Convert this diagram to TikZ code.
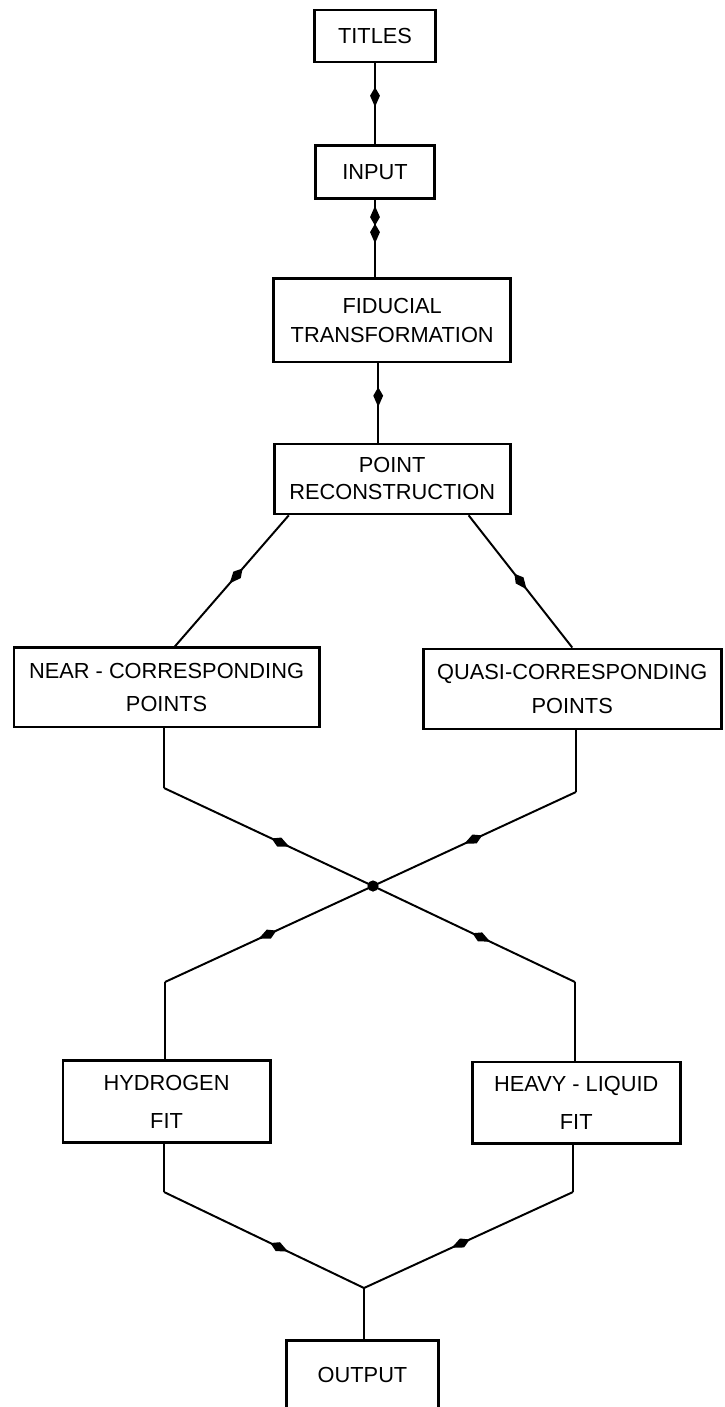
\documentclass[tikz,border=0pt]{standalone}
\usepackage{fontspec}
\setmainfont{Liberation Sans}
\usetikzlibrary{arrows.meta, positioning, decorations.markings}

\begin{document}
\begin{tikzpicture}[%
    x=0.025cm, y=-0.025cm,
    >={Kite[length=14pt,width=7pt,inset=6pt]},
    on grid,
    box/.style={draw, line width=2pt, align=center, inner sep=0pt,
      font=\fontsize{15.5}{18}\selectfont},
    link/.style={line width=1.4pt},
    mid/.style={postaction={decorate},
      decoration={markings, mark=at position #1 with {\arrow{>}}}},
    twoway/.style={postaction={decorate},
      decoration={markings,
        mark=at position 0.33 with {\arrow{<}},
        mark=at position 0.56 with {\arrow{>}}}}
  ]

  \useasboundingbox (0,0) rectangle (724,1407);
  \clip (0,0) rectangle (724,1407);

  \node[box, minimum width=3.03cm, minimum height=1.3cm] (titles) at (375,36) {TITLES};
  \node[box, minimum width=2.98cm, minimum height=1.33cm] (input) [below=3.4cm of titles] {INPUT};
  \node[box, minimum width=5.93cm, minimum height=2.08cm] (fid) [below right=3.71cm and 0.43cm of input] {FIDUCIAL\\[2.6pt] TRANSFORMATION};
  \node[box, minimum width=5.9cm, minimum height=1.75cm] (point) [below=3.96cm of fid] {POINT\\[1.2pt] RECONSTRUCTION};
  \node[box, minimum width=7.63cm, minimum height=1.98cm] (near) [below left=5.21cm and 5.64cm of point] {NEAR - CORRESPONDING\\[6pt] POINTS};
  \node[box, minimum width=7.45cm, minimum height=2cm] (quasi) [below right=5.25cm and 4.5cm of point] {QUASI-CORRESPONDING\\[6pt] POINTS};
  \node[box, minimum width=5.18cm, minimum height=2.03cm] (hydro) [below=10.35cm of near] {HYDROGEN\\[9pt] FIT};
  \node[box, minimum width=5.2cm, minimum height=2.03cm] (heavy) [below right=10.34cm and 0.1cm of quasi] {HEAVY - LIQUID\\[9pt] FIT};
  \node[box, anchor=north, minimum width=3.78cm, inner ysep=0.66cm, text depth=1cm] (output) at (362.5,1339) {OUTPUT};

  % bends of the crossing lines
  \coordinate (nearbend) at (164,788);
  \coordinate (quasibend) at (576,792);
  \coordinate (cross) at (373,886);
  \coordinate (hydrobend) at (165,982);
  \coordinate (heavybend) at (575,982);
  \coordinate (hydrolow) at (164,1192);
  \coordinate (heavylow) at (573,1192);
  \coordinate (join) at (364,1288);

  \path[link]
      (titles.south)                edge [mid=0.54] (titles.south |- input.north)
      (input.south)                 edge [twoway  ] (input.south |- fid.north)
      ([xshift=-0.35cm]fid.south)   edge [mid=0.55] ([xshift=-0.35cm]fid.south |- point.north)
      ([xshift=0.4cm]point.south west)   edge [mid=0.52] ([xshift=0.21cm]near.north)
      ([xshift=-1.075cm]point.south east) edge [mid=0.56] (quasi.north)
      (near.south -| nearbend)      edge [        ] (nearbend)
      (nearbend)                    edge [mid=0.6 ] (cross)
      (quasi.south -| quasibend)    edge [        ] (quasibend)
      (quasibend)                   edge [mid=0.55] (cross)
      (cross)                       edge [mid=0.55] (hydrobend)
      (cross)                       edge [mid=0.58] (heavybend)
      (hydrobend)                   edge [        ] (hydrobend |- hydro.north)
      (heavybend)                   edge [        ] (heavybend |- heavy.north)
      (hydro.south -| hydrolow)     edge [        ] (hydrolow)
      (hydrolow)                    edge [mid=0.62] (join)
      (heavy.south -| heavylow)     edge [        ] (heavylow)
      (heavylow)                    edge [mid=0.58] (join)
      (join)                        edge [        ] (join |- output.north);

  \fill (cross) circle[radius=0.14cm];
\end{tikzpicture}
\end{document}
